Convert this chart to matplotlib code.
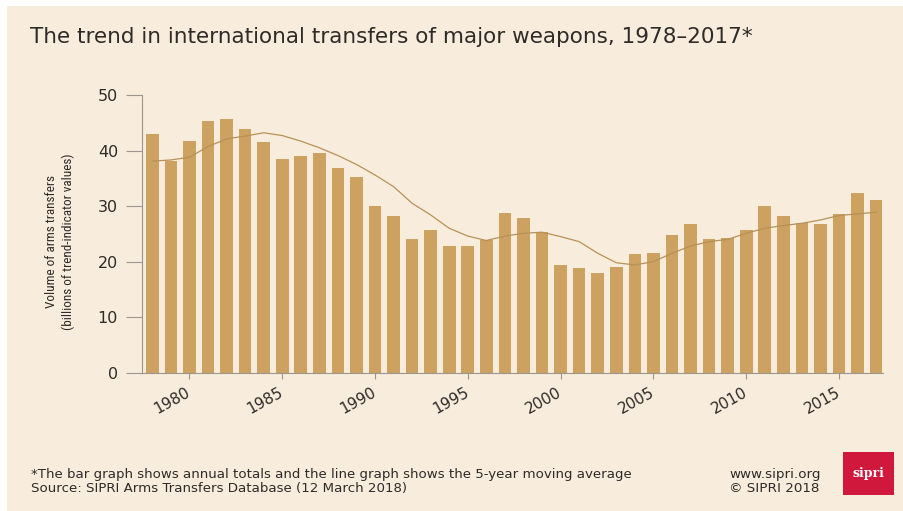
import matplotlib
matplotlib.use("Agg")
import matplotlib.pyplot as plt
from matplotlib.patches import Rectangle
from matplotlib import font_manager

years = list(range(1978, 2018))
annual_totals = [42.9, 38.2, 41.8, 45.3, 45.7, 43.9, 41.5, 38.4, 39.1, 39.6,
                 36.9, 35.3, 30.0, 28.3, 24.1, 25.7, 22.8, 22.8, 23.9, 28.8,
                 27.8, 25.4, 19.4, 18.8, 17.9, 19.1, 21.4, 21.6, 24.8, 26.7,
                 24.1, 24.2, 25.7, 30.0, 28.3, 26.9, 26.8, 28.5, 32.3, 31.1]
moving_average = [38.1, 38.3, 38.8, 40.7, 42.1, 42.6, 43.2, 42.7, 41.7, 40.5,
                  39.1, 37.5, 35.6, 33.5, 30.5, 28.4, 26.0, 24.6, 23.8, 24.6,
                  25.1, 25.3, 24.5, 23.6, 21.5, 19.8, 19.4, 20.0, 21.5, 22.8,
                  23.6, 24.0, 25.1, 26.0, 26.5, 26.9, 27.5, 28.3, 28.6, 28.9]
x_ticks = [1980, 1985, 1990, 1995, 2000, 2005, 2010, 2015]
y_ticks = [0, 10, 20, 30, 40, 50]

title = "The trend in international transfers of major weapons, 1978\u20132017*"
ylabel = "Volume of arms transfers\n(billions of trend-indicator values)"
foot1 = "*The bar graph shows annual totals and the line graph shows the 5-year moving average"
foot2 = "Source: SIPRI Arms Transfers Database (12 March 2018)"
foot_r1 = "www.sipri.org"
foot_r2 = "\u00a9 SIPRI 2018"

names = {f.name for f in font_manager.fontManager.ttflist}
narrow = None
for cand in ["Liberation Sans Narrow", "Roboto Condensed", "Open Sans Condensed",
             "DejaVu Sans Condensed"]:
    if cand in names:
        narrow = cand
        break

W, H = 904, 511
BG = "#F8ECDC"
BAR = "#CDA160"
LINE = "#B89158"
TXT = "#2E2B28"
SPINE = "#9C968F"

fig = plt.figure(figsize=(W / 100, H / 100), dpi=100, facecolor="white")
fig.patches.append(Rectangle((7 / W, 0), 1 - 7 / W, 1 - 6 / H, transform=fig.transFigure,
                             facecolor=BG, edgecolor="none", zorder=-10))

ax = fig.add_axes([141.7 / W, 1 - 372.7 / H, (883 - 141.7) / W, (372.7 - 95) / H])
ax.set_facecolor("none")
ax.bar(years, annual_totals, width=0.68, color=BAR, zorder=2)
ax.plot(years, moving_average, color=LINE, lw=0.9, zorder=3)

ax.set_xlim(1977.43, 2017.37)
ax.set_ylim(0, 50)
ax.set_yticks(y_ticks)
ax.set_xticks(x_ticks)
for s in ["top", "right"]:
    ax.spines[s].set_visible(False)
for s in ["left", "bottom"]:
    ax.spines[s].set_color(SPINE)
    ax.spines[s].set_linewidth(0.8)
ax.tick_params(axis="y", length=11.5, width=0.8, color=SPINE, pad=5.5,
               labelsize=11.5, labelcolor=TXT)
ax.tick_params(axis="x", length=4.5, width=0.8, color=SPINE, pad=9,
               labelsize=11, labelcolor=TXT)
for lab in ax.get_xticklabels():
    lab.set_rotation(29)
    lab.set_ha("right")
    lab.set_va("center")
    lab.set_rotation_mode("anchor")

if narrow:
    yl_kw = dict(family=narrow, fontsize=9.5)
else:
    yl_kw = dict(family="DejaVu Sans", fontstretch="condensed", fontsize=7.8)
fig.text(60 / W, 1 - 242 / H, ylabel, rotation=90, ha="center", va="center",
         multialignment="center", color=TXT, linespacing=1.4, **yl_kw)

fig.text(30 / W, 1 - 43 / H, title, ha="left", va="baseline", fontsize=15.5, color=TXT)

fig.text(31 / W, 1 - 478 / H, foot1, ha="left", va="baseline", fontsize=9.6, color=TXT)
fig.text(31 / W, 1 - 492 / H, foot2, ha="left", va="baseline", fontsize=9.6, color=TXT)
fig.text(729 / W, 1 - 478 / H, foot_r1, ha="left", va="baseline", fontsize=9.7, color=TXT)
fig.text(729 / W, 1 - 492 / H, foot_r2, ha="left", va="baseline", fontsize=9.7, color=TXT)

fig.patches.append(Rectangle((843 / W, 1 - 495 / H), 51 / W, 43 / H, transform=fig.transFigure,
                             facecolor="#D0183C", edgecolor="none", zorder=1))
fig.text(868.5 / W, 1 - 473.5 / H, "sipri", ha="center", va="center", fontsize=9,
         family="DejaVu Serif", weight="bold", color="white")

fig.savefig("out.png", dpi=100, facecolor="white")
